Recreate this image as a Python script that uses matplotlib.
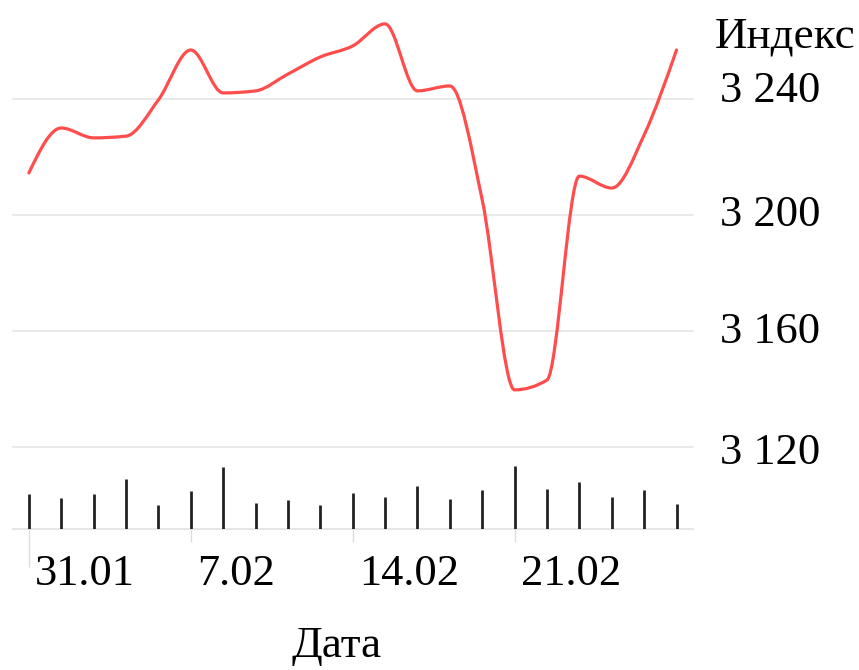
import numpy as np
import matplotlib.pyplot as plt
from matplotlib.path import Path
from matplotlib.patches import PathPatch
from matplotlib.transforms import ScaledTranslation

plt.rcParams['font.family'] = ['Liberation Serif', 'DejaVu Serif']

# data: trading days, index close and volume
days = ['31.01', '3.02', '4.02', '5.02', '6.02', '7.02', '10.02', '11.02', '12.02', '13.02',
        '14.02', '17.02', '18.02', '19.02', '20.02', '21.02', '22.02', '25.02', '26.02',
        '27.02', '28.02']
index_vals = [3214.5, 3230.0, 3226.6, 3227.2, 3239.7, 3256.9, 3242.1, 3242.8, 3248.6, 3254.5,
              3258.3, 3265.9, 3242.8, 3244.5, 3205.2, 3139.7, 3143.1, 3213.4, 3209.3,
              3227.6, 3256.9]
volume = [35, 31, 35, 50, 24, 38, 62, 26, 29, 24, 36, 32, 43, 30, 39, 63, 40, 47, 32, 39, 25]
tick_pos = [0, 5, 10, 15]
y_ticks = [3120, 3160, 3200, 3240]

W, H = 859, 670
fig = plt.figure(figsize=(W / 100, H / 100), dpi=100)

# plot area in pixels
left, right, top, base = 12.7, 692.7, 0.0, 528.7
ax = fig.add_axes([left / W, (H - base) / H, (right - left) / W, (base - top) / H])
pxu = 2.9  # pixels per index unit
ax.set_ylim(3120 - (base - 447) / pxu, 3240 + 99 / pxu)
ax.set_xlim(-0.5, len(days) - 0.5)

# monotone cubic line (d3 monotoneX style)
x = np.arange(len(days), dtype=float)
y = np.array(index_vals)
s = np.diff(y)
t = np.zeros_like(y)
for i in range(1, len(y) - 1):
    s0, s1 = s[i - 1], s[i]
    p = (s0 + s1) / 2
    t[i] = (np.sign(s0) + np.sign(s1)) * min(abs(s0), abs(s1), 0.5 * abs(p))
t[0] = (3 * s[0] - t[1]) / 2
t[-1] = (3 * s[-1] - t[-2]) / 2
verts = [(x[0], y[0])]
codes = [Path.MOVETO]
for i in range(len(x) - 1):
    verts += [(x[i] + 1 / 3, y[i] + t[i] / 3), (x[i + 1] - 1 / 3, y[i + 1] - t[i + 1] / 3),
              (x[i + 1], y[i + 1])]
    codes += [Path.CURVE4] * 3
ax.add_patch(PathPatch(Path(verts, codes), fill=False, edgecolor='#ff4d4d', lw=2.3,
                       capstyle='round', zorder=3))

# volume sticks on a twin axis
axv = ax.twinx()
axv.set_ylim(0, base - top)
axv.vlines(x, 0, volume, color='#222222', lw=2.0)
axv.set_yticks([])
axv.axis('off')

for v in y_ticks:
    ax.axhline(v, color='#e6e6e6', lw=1.2, zorder=0, clip_on=False)
ax.axhline(ax.get_ylim()[0], color='#e6e6e6', lw=1.5, zorder=0, clip_on=False)

for sp in ax.spines.values():
    sp.set_visible(False)

ax.yaxis.tick_right()
ax.set_yticks(y_ticks)
ax.set_yticklabels([f'{v:,}'.replace(',', ' ') for v in y_ticks])
ax.tick_params(axis='y', length=0, pad=19.5, labelsize=32)
# labels sit a little above their gridlines
for lab, dy in zip(ax.get_yticklabels(), [-1, 4, 5, 12]):
    lab.set_transform(lab.get_transform() + ScaledTranslation(0, dy / 100, fig.dpi_scale_trans))

ax.set_xticks(tick_pos)
ax.set_xticklabels([days[i] for i in tick_pos])
ax.tick_params(axis='x', length=9.5, width=1, color='#dddddd', pad=9, labelsize=32)
ax.xaxis.get_major_ticks()[0].tick1line.set_markersize(27)
for lab in ax.get_xticklabels():
    lab.set_horizontalalignment('left')
    lab.set_transform(lab.get_transform() + ScaledTranslation(6 / 100, 0, fig.dpi_scale_trans))

fig.text(715 / W, (H - 48) / H, 'Индекс', fontsize=32.5, ha='left', va='baseline')
fig.text(337 / W, (H - 657) / H, 'Дата', fontsize=32.5, ha='center', va='baseline')

fig.savefig('out.png', dpi=100)
